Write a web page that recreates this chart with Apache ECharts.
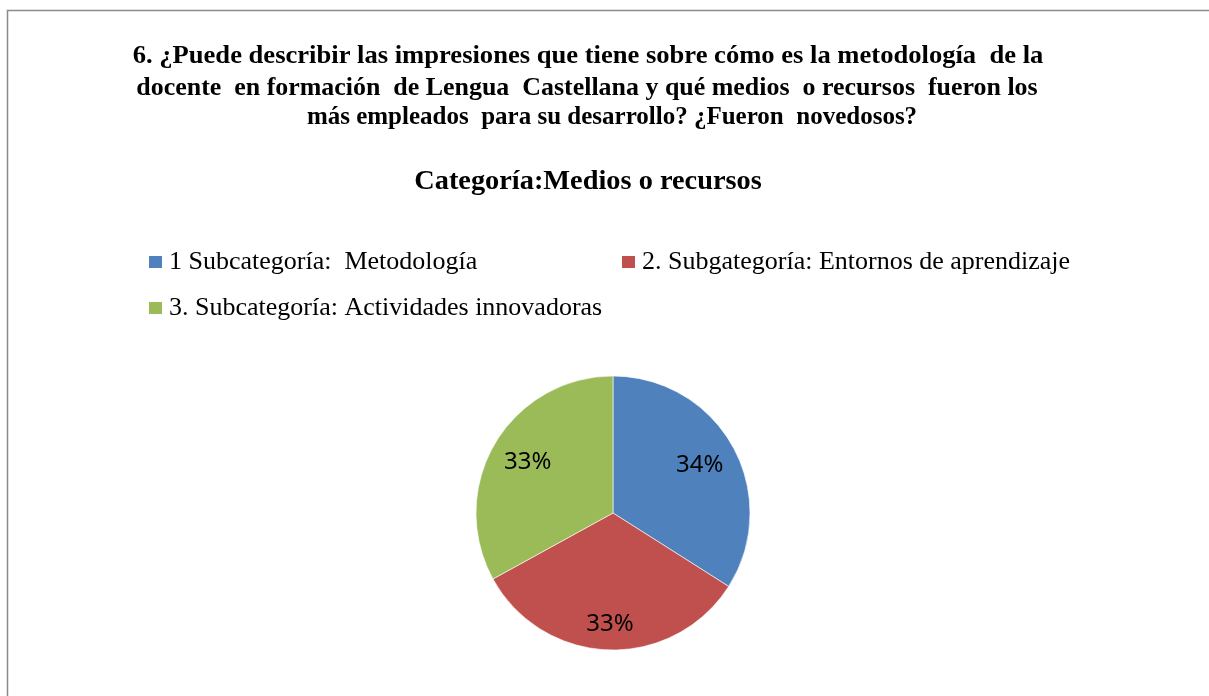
<!DOCTYPE html>
<html>
<head>
<meta charset="utf-8">
<script src="https://cdn.jsdelivr.net/npm/echarts@6/dist/echarts.min.js"></script>
<style>
  html, body { margin: 0; padding: 0; background: #fff; }
  #chart { width: 1209px; height: 696px; }
</style>
</head>
<body>
<div id="chart"></div>
<script>
const questionLines = [
  '6. ¿Puede describir las impresiones que tiene sobre cómo es la metodología  de la',
  'docente  en formación  de Lengua  Castellana y qué medios  o recursos  fueron los',
  'más empleados  para su desarrollo? ¿Fueron  novedosos?'
];
const subtitle = 'Categoría:Medios o recursos';
const categories = [
  '1 Subcategoría:  Metodología',
  '2. Subgategoría: Entornos de aprendizaje',
  '3. Subcategoría: Actividades innovadoras'
];
const values = [34, 33, 33];
const colors = ['#4F81BD', '#C0504D', '#9BBB59'];

const chart = echarts.init(document.getElementById('chart'));

const serif = '"Liberation Serif", "Times New Roman", serif';
const lineCenters = [588, 587, 612];
const lineMiddles = [57, 89, 118];
// lines 1 and 2 are justified in the original, so stretch them a bit
const lineStretch = [1.063, 1.037, 1];

const legendPos = [
  { left: 149, top: 249 },
  { left: 622, top: 249 },
  { left: 149, top: 295 }
];

const pieData = categories.map((name, i) => ({ name, value: values[i] }));

chart.setOption({
  animation: false,
  color: colors,
  graphic: [
    {
      type: 'rect',
      shape: { x: 7.5, y: 10.5, width: 1400, height: 900 },
      style: { fill: 'none', stroke: '#8a8a8a', lineWidth: 1.5 },
      silent: true
    },
    ...questionLines.map((t, i) => ({
      type: 'text',
      x: lineCenters[i],
      y: lineMiddles[i],
      scaleX: lineStretch[i],
      style: {
        text: t,
        fill: '#000',
        font: 'bold 25px ' + serif,
        textAlign: 'center',
        textVerticalAlign: 'middle'
      }
    })),
    {
      type: 'text',
      x: 588,
      y: 182,
      scaleX: 1.05,
      style: {
        text: subtitle,
        fill: '#000',
        font: 'bold 27px ' + serif,
        textAlign: 'center',
        textVerticalAlign: 'middle'
      }
    }
  ],
  legend: categories.map((name, i) => ({
    data: [name],
    left: legendPos[i].left,
    top: legendPos[i].top,
    padding: 0,
    icon: 'rect',
    itemWidth: 13,
    itemHeight: 12,
    selectedMode: false,
    itemStyle: { borderWidth: 0 },
    textStyle: {
      color: '#000',
      fontFamily: serif,
      fontSize: 26,
      padding: [0, 0, 0, 2]
    }
  })),
  series: [
    {
      type: 'pie',
      center: [613, 513],
      radius: [0, 137],
      startAngle: 90,
      clockwise: true,
      label: { show: false },
      labelLine: { show: false },
      itemStyle: { borderColor: '#ffffff', borderWidth: 0.6 },
      emphasis: { disabled: true },
      data: pieData
    },
    {
      type: 'pie',
      center: [613, 513],
      radius: [55, 137],
      startAngle: 90,
      clockwise: true,
      silent: true,
      itemStyle: { color: 'rgba(0,0,0,0)' },
      label: {
        show: true,
        position: 'inside',
        formatter: '{c}%',
        color: '#000',
        fontFamily: '"Noto Sans", sans-serif',
        fontSize: 24
      },
      labelLine: { show: false },
      labelLayout: (params) => (params.dataIndex === 1 ? { dy: 12 } : {}),
      data: pieData
    }
  ]
});
</script>
</body>
</html>
